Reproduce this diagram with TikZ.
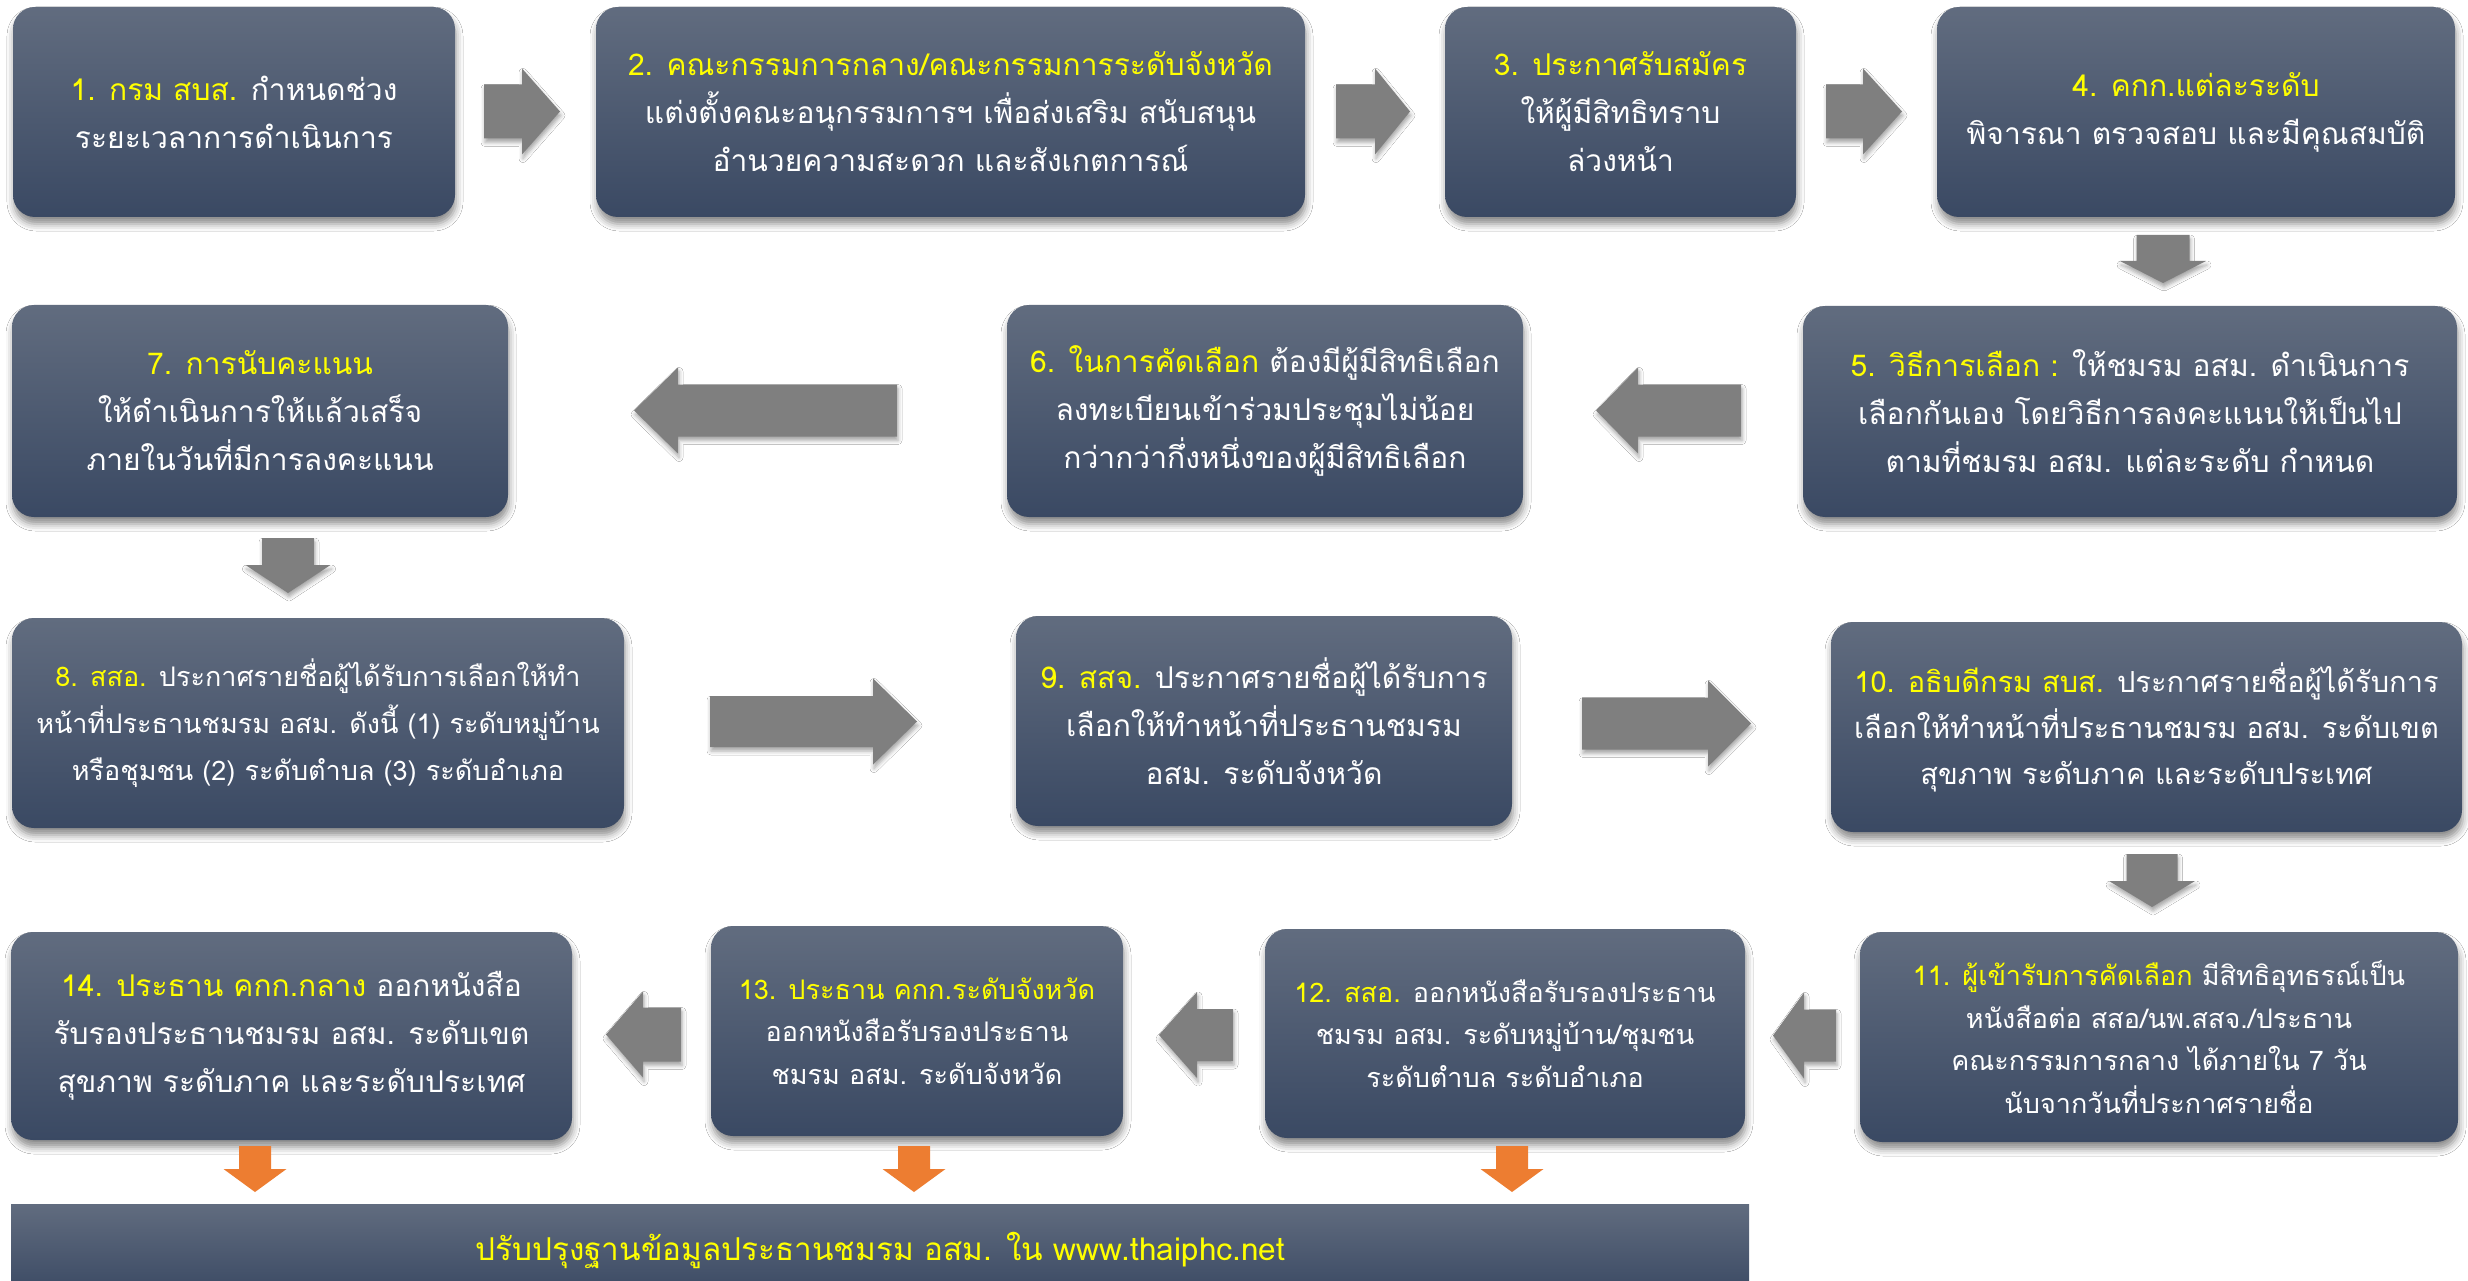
\documentclass[tikz,border=0pt]{standalone}
\usepackage{fontspec}
\setmainfont[Script=Thai]{Loma}
\usetikzlibrary{shadows.blur}
\definecolor{boxtop}{RGB}{97,108,127}
\definecolor{boxbot}{RGB}{58,73,99}
\definecolor{yl}{RGB}{255,255,0}
\definecolor{garr}{RGB}{127,127,127}
\definecolor{oarr}{RGB}{237,125,49}
\newcommand\garrowH[6]{% x0, xbase, xtip, yc, shaft half, style
  \fill[#6] ({#1},{#4-#5}) -- ({#2},{#4-#5}) -- ({#2},{#4-43}) -- ({#3},{#4}) -- ({#2},{#4+43}) -- ({#2},{#4+#5}) -- ({#1},{#4+#5}) -- cycle;}
\newcommand\garrowV[7]{% xc, y0, ybase, ytip, shaft half, head half, style
  \fill[#7] ({#1-#5},{#2}) -- ({#1-#5},{#3}) -- ({#1-#6},{#3}) -- ({#1},{#4}) -- ({#1+#6},{#3}) -- ({#1+#5},{#3}) -- ({#1+#5},{#2}) -- cycle;}
\tikzset{
  stepbox/.style={rounded corners=22pt, top color=boxtop, bottom color=boxbot,
    blur shadow={shadow xshift=1pt, shadow yshift=-7pt, shadow blur radius=7pt, shadow opacity=45},
    text=white, align=center, inner sep=0pt},
  fbig/.style={font=\fontsize{30}{48}\selectfont},
  ften/.style={font=\fontsize{29}{46}\selectfont},
  fmid/.style={font=\fontsize{27}{47}\selectfont},
  fsml/.style={font=\fontsize{27}{42.5}\selectfont},
  fbar/.style={font=\fontsize{31.5}{48}\selectfont},
  grayarrow/.style={fill=garr, blur shadow={shadow xshift=1pt, shadow yshift=-4pt, shadow blur radius=4pt, shadow opacity=35}},
  orangearrow/.style={fill=oarr},
}
\begin{document}
\begin{tikzpicture}[x=1pt,y=-1pt]
\useasboundingbox (0,0) rectangle (2468,1281);
\fill[white] (0,0) rectangle (2468,1281);
% row 1
\node[stepbox,fbig,minimum width=442pt,minimum height=210pt] (b1) at (234,112)
  {\textcolor{yl}{1. กรม สบส.} กำหนดช่วง\\ระยะเวลาการดำเนินการ};
\node[stepbox,fbig,minimum width=709pt,minimum height=210pt] (b2) at (950.5,112)
  {\textcolor{yl}{2. คณะกรรมการกลาง/คณะกรรมการระดับจังหวัด}\\แต่งตั้งคณะอนุกรรมการฯ เพื่อส่งเสริม สนับสนุน\\อำนวยความสะดวก และสังเกตการณ์};
\node[stepbox,fbig,minimum width=351pt,minimum height=210pt] (b3) at (1620.5,112)
  {\textcolor{yl}{3. ประกาศรับสมัคร}\\ให้ผู้มีสิทธิทราบ\\ล่วงหน้า};
\node[stepbox,fbig,minimum width=518pt,minimum height=210pt] (b4) at (2196,112)
  {\textcolor{yl}{4. คกก.แต่ละระดับ}\\พิจารณา ตรวจสอบ และมีคุณสมบัติ};
% row 2
\node[stepbox,fbig,minimum width=654pt,minimum height=211pt] (b5) at (2130,411.5)
  {\textcolor{yl}{5. วิธีการเลือก :} ให้ชมรม อสม. ดำเนินการ\\เลือกกันเอง โดยวิธีการลงคะแนนให้เป็นไป\\ตามที่ชมรม อสม. แต่ละระดับ กำหนด};
\node[stepbox,fbig,minimum width=516pt,minimum height=212pt] (b6) at (1265,411)
  {\textcolor{yl}{6. ในการคัดเลือก} ต้องมีผู้มีสิทธิเลือก\\ลงทะเบียนเข้าร่วมประชุมไม่น้อย\\กว่ากว่ากึ่งหนึ่งของผู้มีสิทธิเลือก};
\node[stepbox,fbig,minimum width=496pt,minimum height=212pt] (b7) at (260,411)
  {\textcolor{yl}{7. การนับคะแนน}\\ให้ดำเนินการให้แล้วเสร็จ\\ภายในวันที่มีการลงคะแนน};
% row 3
\node[stepbox,fmid,minimum width=612pt,minimum height=210pt] (b8) at (318,723)
  {\textcolor{yl}{8. สสอ.} ประกาศรายชื่อผู้ได้รับการเลือกให้ทำ\\หน้าที่ประธานชมรม อสม. ดังนี้ (1) ระดับหมู่บ้าน\\หรือชุมชน (2) ระดับตำบล (3) ระดับอำเภอ};
\node[stepbox,fbig,minimum width=496pt,minimum height=210pt] (b9) at (1264,721)
  {\textcolor{yl}{9. สสจ.} ประกาศรายชื่อผู้ได้รับการ\\เลือกให้ทำหน้าที่ประธานชมรม\\อสม. ระดับจังหวัด};
\node[stepbox,ften,minimum width=631pt,minimum height=210pt] (b10) at (2146.5,727)
  {\textcolor{yl}{10. อธิบดีกรม สบส.} ประกาศรายชื่อผู้ได้รับการ\\เลือกให้ทำหน้าที่ประธานชมรม อสม. ระดับเขต\\สุขภาพ ระดับภาค และระดับประเทศ};
% row 4
\node[stepbox,fsml,minimum width=598pt,minimum height=210pt] (b11) at (2159,1037)
  {\textcolor{yl}{11. ผู้เข้ารับการคัดเลือก} มีสิทธิอุทธรณ์เป็น\\หนังสือต่อ สสอ/นพ.สสจ./ประธาน\\คณะกรรมการกลาง ได้ภายใน 7 วัน\\นับจากวันที่ประกาศรายชื่อ};
\node[stepbox,fsml,minimum width=480pt,minimum height=209pt] (b12) at (1505,1033.5)
  {\textcolor{yl}{12. สสอ.} ออกหนังสือรับรองประธาน\\ชมรม อสม. ระดับหมู่บ้าน/ชุมชน\\ระดับตำบล ระดับอำเภอ};
\node[stepbox,fsml,minimum width=412pt,minimum height=210pt] (b13) at (917,1031)
  {\textcolor{yl}{13. ประธาน คกก.ระดับจังหวัด}\\ออกหนังสือรับรองประธาน\\ชมรม อสม. ระดับจังหวัด};
\node[stepbox,fbig,minimum width=561pt,minimum height=208pt] (b14) at (291.5,1036)
  {\textcolor{yl}{14. ประธาน คกก.กลาง} ออกหนังสือ\\รับรองประธานชมรม อสม. ระดับเขต\\สุขภาพ ระดับภาค และระดับประเทศ};
% bottom bar
\node[top color=boxtop, bottom color=boxbot, text=yl, fbar, inner sep=0pt,
  minimum width=1738pt, minimum height=92pt] (bar) at (880,1250)
  {ปรับปรุงฐานข้อมูลประธานชมรม อสม. ใน www.thaiphc.net};
% gray arrows, horizontal
\garrowH{484}{522}{560}{111.5}{27}{grayarrow}
\garrowH{1336}{1375}{1410}{111.5}{27}{grayarrow}
\garrowH{1826}{1863}{1902}{111.5}{27}{grayarrow}
\garrowH{1741}{1638}{1596}{410.5}{26}{grayarrow}
\garrowH{897}{678}{634}{410.5}{26}{grayarrow}
\garrowH{710}{873}{917}{721.5}{25.5}{grayarrow}
\garrowH{1582}{1708}{1751}{723.5}{26}{grayarrow}
\garrowH{1836}{1804}{1773}{1035.5}{26}{grayarrow}
\garrowH{1233}{1197}{1159}{1035}{26}{grayarrow}
\garrowH{681}{643}{606}{1034.5}{27}{grayarrow}
% gray arrows, vertical
\garrowV{2163}{235}{261}{283}{26.5}{43}{grayarrow}
\garrowV{288}{538}{565}{593}{26}{42.5}{grayarrow}
\garrowV{2152}{854}{881}{907}{25.5}{43}{grayarrow}
% orange arrows
\garrowV{255}{1146}{1169}{1192}{16}{31.5}{orangearrow}
\garrowV{914}{1146}{1169}{1192}{16}{31.5}{orangearrow}
\garrowV{1512}{1146}{1169}{1192}{16}{31.5}{orangearrow}
\end{tikzpicture}
\end{document}
